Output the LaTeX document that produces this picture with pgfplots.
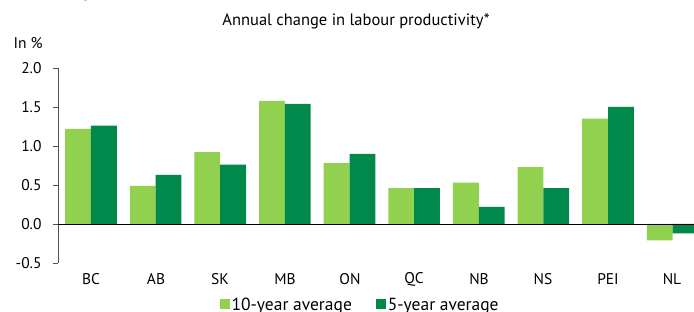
\documentclass[border=0pt]{standalone}
\usepackage{fontspec}
\setmainfont{PT Sans}
\usepackage{pgfplots}
\pgfplotsset{compat=1.18}
\definecolor{lightg}{RGB}{146,208,80}
\definecolor{darkg}{RGB}{0,137,75}
\definecolor{axgrey}{RGB}{80,80,80}
\newcommand{\tf}{\fontsize{16.5}{19}\selectfont}
\newcommand{\lf}{\fontsize{17.5}{20}\selectfont}
\newcommand{\kf}{\fontsize{15.5}{18}\selectfont}
\begin{document}
\begin{tikzpicture}[x=1pt,y=1pt]
\path[use as bounding box] (0,0) rectangle (694,312);
\node[font=\bfseries\fontsize{26}{30}\selectfont, anchor=base] at (88,316) {y};
\node[font=\tf] at (356,291) {Annual change in labour productivity*};
\node[font=\kf, anchor=west] at (10,269) {In \%};
\begin{axis}[
  at={(58pt,49pt)}, anchor=south west,
  scale only axis, width=636pt, height=195pt,
  ymin=-0.5, ymax=2.0,
  xmin=-0.51, xmax=9.33,
  axis x line=none,
  axis y line*=left,
  y axis line style={draw=axgrey, line width=0.8pt},
  ytick={-0.5,0,0.5,1,1.5,2},
  yticklabels={-0.5,0.0,0.5,1.0,1.5,2.0},
  tick align=outside,
  major tick length=5pt,
  y tick style={draw=axgrey, line width=0.8pt},
  yticklabel style={font=\kf, xshift=-8pt},
  xtick={0,...,9},
  xticklabels={BC,AB,SK,MB,ON,QC,NB,NS,PEI,NL},
  ybar=0pt, bar width=25.8pt,
  legend columns=2,
  legend style={draw=none, at={(0.475,-0.215)}, anchor=center,
    font=\lf, inner sep=0pt,
    /tikz/every even column/.append style={column sep=22pt}},
  legend image code/.code={\fill[#1] (0pt,-4pt) rectangle (10pt,6pt);},
]
\addplot[fill=lightg, draw=none] coordinates {(0,1.22) (1,0.49) (2,0.92) (3,1.58) (4,0.78) (5,0.46) (6,0.53) (7,0.73) (8,1.35) (9,-0.21)};
\addplot[fill=darkg, draw=none] coordinates {(0,1.26) (1,0.63) (2,0.76) (3,1.54) (4,0.90) (5,0.46) (6,0.22) (7,0.46) (8,1.50) (9,-0.12)};
\legend{10-year average, 5-year average}
\draw[black, line width=0.8pt] (rel axis cs:0,0.2) -- (rel axis cs:1,0.2);
\end{axis}
\foreach \x/\l in {91/BC,156/AB,220/SK,285/MB,350/ON,414/QC,479/NB,543/NS,608/PEI,672/NL}
  \node[font=\kf] at (\x,33) {\l};
\end{tikzpicture}
\end{document}
